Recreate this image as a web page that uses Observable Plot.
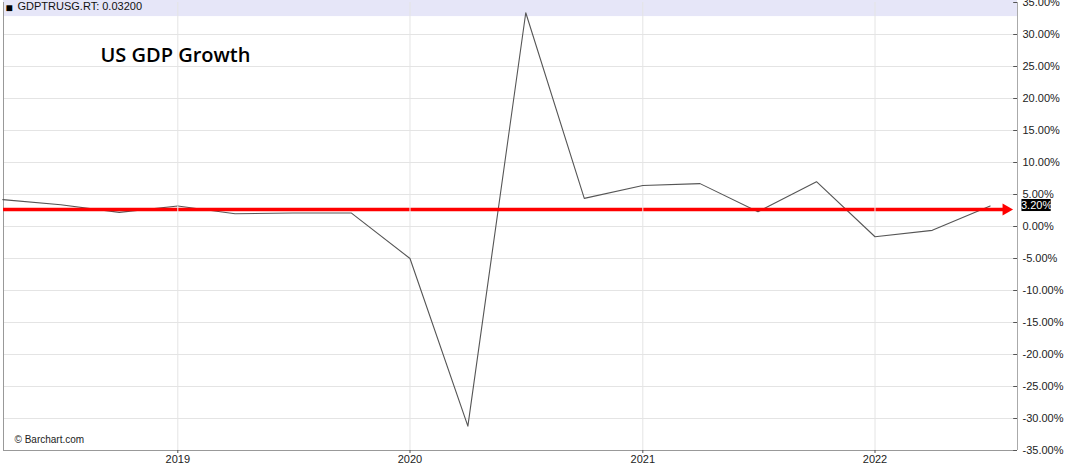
<!DOCTYPE html>
<html><head><meta charset="utf-8">
<script src="https://cdn.jsdelivr.net/npm/d3@7"></script>
<script src="https://cdn.jsdelivr.net/npm/@observablehq/plot@0.6"></script>
<style>body{margin:0;background:#fff;} #chart svg{display:block;}</style>
</head><body><div id="chart"></div>
<script>
const quarterDates = ["2018-04-01","2018-07-01","2018-10-01","2019-01-01","2019-04-01","2019-07-01","2019-10-01","2020-01-01","2020-04-01","2020-07-01","2020-10-01","2021-01-01","2021-04-01","2021-07-01","2021-10-01","2022-01-01","2022-04-01","2022-07-01"];
const growthPct = [4.2,3.4,2.2,3.2,2.0,2.1,2.1,-5.0,-31.2,33.4,4.4,6.4,6.7,2.3,7.0,-1.6,-0.6,3.2];
const yearTicks = ["2019-01-01","2020-01-01","2021-01-01","2022-01-01"];
const yTicks = [-35,-30,-25,-20,-15,-10,-5,0,5,10,15,20,25,30,35];
const referenceLevel = 2.65;
const lastValue = 3.2;
const lastLabel = "3.20%";
const legendSymbol = "\u25A0";
const seriesLabel = "GDPTRUSG.RT: 0.03200";
const titleText = "US GDP Growth";
const creditText = "\u00A9 Barchart.com";

const xStart = new Date("2018-04-02"), xEnd = new Date("2022-08-13");
const data = quarterDates.map((d, i) => ({date: new Date(d), value: growthPct[i]}));
const years = yearTicks.map(d => new Date(d));

const chart = Plot.plot({
  width: 1070, height: 466,
  marginLeft: 3, marginRight: 53, marginTop: 2, marginBottom: 16,
  style: {fontFamily: "'Liberation Sans', Arial, sans-serif", fontSize: "11px", color: "#222", background: "#fff"},
  x: {type: "utc", domain: [xStart, xEnd]},
  y: {domain: [-35, 35]},
  marks: [
    Plot.rect([0], {x1: xStart, x2: xEnd, y1: 32.8, y2: 35.4, fill: "#e6e6f8"}),
    Plot.gridY(yTicks.filter(d => Math.abs(d) < 35), {stroke: "#e4e4e4", strokeOpacity: 1}),
    Plot.gridX(years, {stroke: "#e4e4e4", strokeOpacity: 1}),
    Plot.ruleX([xStart], {stroke: "#999"}),
    Plot.ruleX([xEnd], {stroke: "#aaa"}),
    Plot.ruleY([-35], {stroke: "#999"}),
    Plot.ruleY(yTicks, {x1: new Date("2022-08-07"), x2: xEnd, stroke: "#555"}),
    Plot.axisY(yTicks, {anchor: "right", label: null, tickSize: 0, tickPadding: 5, tickFormat: d => d.toFixed(2) + "%", fill: "#222"}),
    Plot.axisX(years, {label: null, tickSize: 3, tickPadding: 2, tickFormat: d3.utcFormat("%Y"), stroke: "#555", fill: "#222"}),
    Plot.line(data, {x: "date", y: "value", stroke: "#555", strokeWidth: 1.1}),
    Plot.ruleY([referenceLevel], {x1: xStart, x2: new Date("2022-07-23"), stroke: "#ff0000", strokeWidth: 3.5}),
    Plot.dot([referenceLevel], {x: new Date("2022-07-26"), y: d => d, symbol: "triangle", rotate: 90, r: 4.5, fill: "#ff0000", stroke: "none"}),
    Plot.ruleX(years, {y1: 2.1, y2: 3.2, stroke: "#f2f2f2", strokeWidth: 1}),
    Plot.rect([lastValue], {x1: new Date("2022-08-20"), x2: new Date("2022-10-05"), y1: 2.34, y2: 4.22, fill: "#000", clip: false}),
    Plot.text([lastLabel], {x: new Date("2022-09-12"), y: lastValue + 0.08, text: d => d, fill: "#fff", fontSize: 11}),
    Plot.text([legendSymbol], {frameAnchor: "top-left", text: d => d, dx: 2, dy: 1, lineAnchor: "top", textAnchor: "start", fill: "#000", fontSize: 12}),
    Plot.text([seriesLabel], {frameAnchor: "top-left", text: d => d, dx: 14, dy: 0, lineAnchor: "top", textAnchor: "start", fill: "#111", fontSize: 11}),
    Plot.text([titleText], {frameAnchor: "top-left", text: d => d, dx: 97, dy: 45, lineAnchor: "top", textAnchor: "start", fill: "#000", fontSize: 20, fontWeight: 600, fontFamily: "'Open Sans', sans-serif"}),
    Plot.text([creditText], {frameAnchor: "bottom-left", text: d => d, dx: 11, dy: -8, lineAnchor: "bottom", textAnchor: "start", fill: "#222", fontSize: 10})
  ]
});
document.getElementById("chart").append(chart);
</script></body></html>
